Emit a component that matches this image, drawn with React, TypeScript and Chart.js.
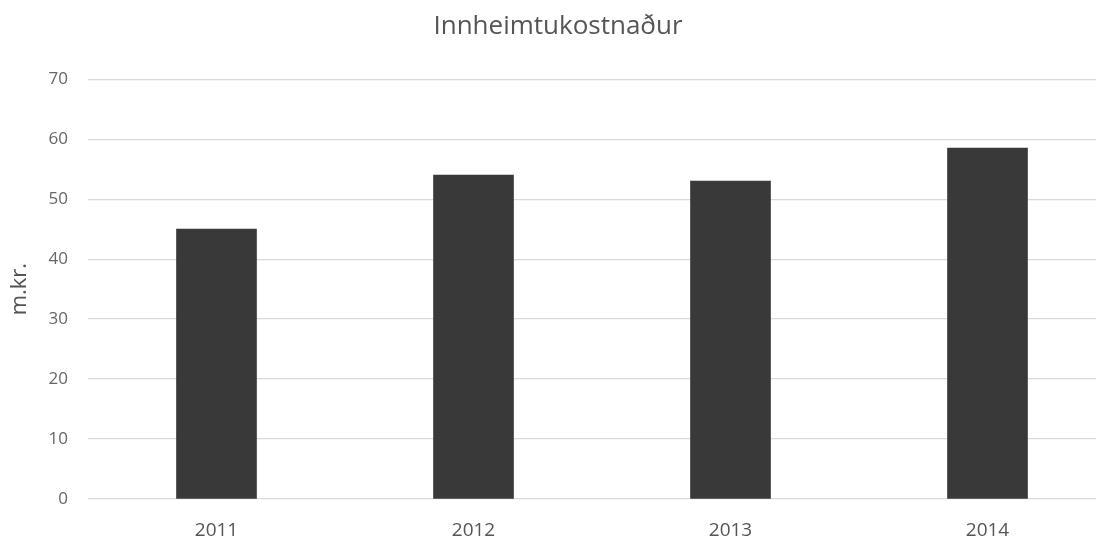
import React, { useEffect, useRef } from "react";
import { Chart, registerables } from "chart.js";

Chart.register(...registerables);

const categories = ["2011", "2012", "2013", "2014"];
const values = [45, 54, 53, 58.5];
const yTicks = [0, 10, 20, 30, 40, 50, 60, 70];
const titleText = "Innheimtukostnaður";
const yTitle = "m.kr.";

export default function App() {
  const ref = useRef<HTMLCanvasElement | null>(null);
  useEffect(() => {
    document.body.style.margin = "0";
    document.body.style.overflow = "hidden";
    const ctx = ref.current!;
    const font = "'Open Sans', 'Liberation Sans', sans-serif";
    const chart = new Chart(ctx, {
      type: "bar",
      data: {
        labels: categories,
        datasets: [
          {
            data: values,
            backgroundColor: "#393939",
            borderWidth: 0,
            barThickness: 80,
          },
        ],
      },
      options: {
        animation: false,
        responsive: false,
        maintainAspectRatio: false,
        layout: { padding: { left: 0, right: 0, top: 0, bottom: 0 } },
        plugins: {
          legend: { display: false },
          tooltip: { enabled: false },
          title: {
            display: true,
            text: titleText,
            color: "#555",
            font: { family: font, size: 26, weight: "normal" },
            padding: { top: 11, bottom: 37 },
          },
        },
        scales: {
          x: {
            grid: { display: false, drawTicks: false },
            border: { display: false },
            ticks: {
              color: "#555",
              font: { family: font, size: 19 },
              padding: 20,
              maxRotation: 0,
            },
            afterFit: (s: any) => {
              s.height = 44;
            },
          },
          y: {
            min: 0,
            max: 70,
            afterBuildTicks: (s: any) => {
              s.ticks = yTicks.map((v) => ({ value: v }));
            },
            grid: { color: "#dadada", lineWidth: 1.2, drawTicks: false },
            border: { display: false },
            ticks: {
              color: "#666",
              font: { family: font, size: 17 },
              padding: 20,
            },
            title: {
              display: true,
              text: yTitle,
              color: "#555",
              font: { family: font, size: 22 },
              padding: { top: 7, bottom: 0 },
            },
            afterFit: (s: any) => {
              s.width = 88;
            },
          },
        },
      },
    });
    return () => chart.destroy();
  }, []);
  return (
    <div style={{ width: 1116, height: 543 }}>
      <canvas ref={ref} width={1116} height={543} style={{ display: "block" }} />
    </div>
  );
}
